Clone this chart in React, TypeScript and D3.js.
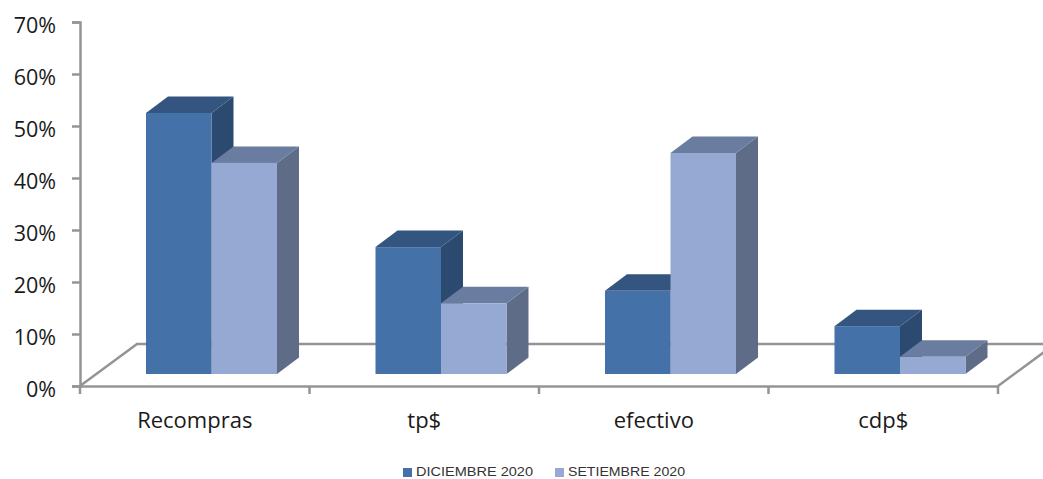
import React, { useRef, useEffect } from 'react';
import * as d3 from 'd3';

const categories = ['Recompras', 'tp$', 'efectivo', 'cdp$'];
const seriesNames = ['DICIEMBRE 2020', 'SETIEMBRE 2020'];
const diciembre = [0.502, 0.244, 0.16, 0.092];
const setiembre = [0.406, 0.136, 0.425, 0.033];
const yTicks = [0, 0.1, 0.2, 0.3, 0.4, 0.5, 0.6, 0.7];

const seriesValues = [diciembre, setiembre];
const colors = [
	{ front: '#4471a7', top: '#34557f', side: '#2c4a70' },
	{ front: '#95a9d2', top: '#6a7ca0', side: '#5e6c88' },
];

const width = 1043;
const height = 479;
const axisColor = '#949494';
const font = '"Open Sans", sans-serif';

export default function App() {
	const chartRef = useRef<null | SVGSVGElement>(null);

	useEffect(() => {
		if (!chartRef.current) {
			return;
		}
		document.body.style.margin = '0';

		const svg = d3.select(chartRef.current);
		svg.selectAll('*').remove();

		const x0 = d3.scaleBand<string>().domain(categories).range([80, 998]);
		const y = d3.scaleLinear().domain([0, 0.7]).range([386, 22]);
		const x1 = d3.scaleBand<string>().domain(seriesNames).range([66, 197]);

		// floor of the 3d box
		const floorDx = 57;
		const floorDy = 42;
		const floor = svg.append('g')
			.attr('fill', 'none')
			.attr('stroke', axisColor)
			.attr('stroke-width', 2.5);
		floor.append('path').attr('d', d3.line()([
			[x0.range()[0], y(0)],
			[x0.range()[0] + floorDx, y(0) - floorDy],
			[width + 10, y(0) - floorDy],
		]));
		floor.append('path').attr('d', d3.line()([
			[x0.range()[1], y(0)],
			[x0.range()[1] + floorDx, y(0) - floorDy],
		]));

		// Y axis
		const yAxis = svg.append('g')
			.attr('transform', 'translate(80, 0)')
			.call(d3.axisLeft(y).tickValues(yTicks).tickFormat(d3.format('.0%')).tickSize(8).tickPadding(16))
			.style('font-family', font)
			.style('font-size', '21.5px')
			.style('color', '#1a1a1a');
		yAxis.selectAll('line, path').attr('stroke', axisColor).attr('stroke-width', 2.5);
		yAxis.selectAll('text').attr('dy', '0.48em');

		// X axis
		const xAxis = svg.append('g')
			.attr('transform', `translate(0, ${y(0)})`)
			.call(d3.axisBottom(x0).tickSize(0).tickPadding(26))
			.style('font-family', font)
			.style('font-size', '22px')
			.style('color', '#1a1a1a');
		xAxis.selectAll('path').attr('stroke', axisColor).attr('stroke-width', 2.5);
		xAxis.selectAll('.cat-tick')
			.data(d3.range(categories.length + 1))
			.enter()
			.append('line')
			.attr('x1', d => x0.range()[0] + d * x0.step())
			.attr('x2', d => x0.range()[0] + d * x0.step())
			.attr('y1', 0)
			.attr('y2', 8)
			.attr('stroke', axisColor)
			.attr('stroke-width', 2.5);

		// Bars, dark series first so the light one sits over its side face
		const baseLift = 12;
		const depthX = 22;
		const depthY = 16.5;
		const poly = (pts: [number, number][]) => pts.map(p => p.join(',')).join(' ');

		categories.forEach((cat, c) => {
			seriesNames.forEach((name, s) => {
				const left = x0(cat)! + x1(name)!;
				const right = left + x1.bandwidth();
				const bottom = y(0) - baseLift;
				const top = bottom - (y(0) - y(seriesValues[s][c]));
				const g = svg.append('g');
				g.append('polygon')
					.attr('fill', colors[s].side)
					.attr('points', poly([[right, top], [right + depthX, top - depthY], [right + depthX, bottom - depthY], [right, bottom]]));
				g.append('polygon')
					.attr('fill', colors[s].top)
					.attr('points', poly([[left, top], [left + depthX, top - depthY], [right + depthX, top - depthY], [right, top]]));
				g.append('rect')
					.attr('x', left)
					.attr('y', top)
					.attr('width', right - left)
					.attr('height', bottom - top)
					.attr('fill', colors[s].front);
			});
		});

		// Legend
		const legendX = d3.scaleOrdinal<string, number>().domain(seriesNames).range([403, 555]);
		seriesNames.forEach((name, s) => {
			svg.append('rect')
				.attr('x', legendX(name))
				.attr('y', 468)
				.attr('width', 9)
				.attr('height', 9)
				.attr('fill', colors[s].front);
			svg.append('text')
				.attr('x', legendX(name) + 13)
				.attr('y', 476)
				.attr('fill', '#333')
				.style('font-family', '"Liberation Sans", sans-serif')
				.style('font-size', '13px')
				.attr('textLength', 117)
				.attr('lengthAdjust', 'spacingAndGlyphs')
				.text(name);
		});
	}, []);

	return <svg ref={chartRef} width={width} height={height} style={{ display: 'block', background: '#fff' }} />;
}
